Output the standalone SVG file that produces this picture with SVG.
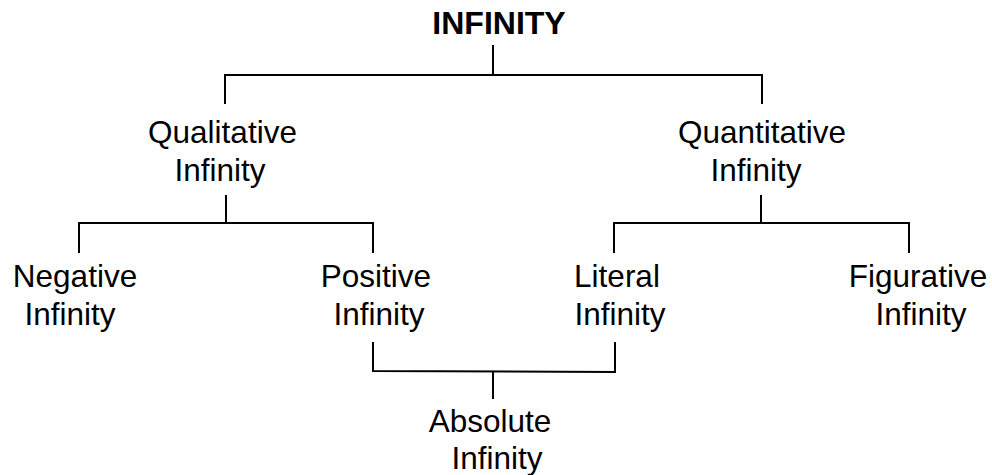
<svg xmlns="http://www.w3.org/2000/svg" width="992" height="475" viewBox="0 0 992 475">
<style>
text{font-family:"Liberation Sans",Arial,sans-serif;font-size:31.5px;fill:#000;text-anchor:middle}
.b{font-weight:bold;font-size:32px}
.c{fill:none;stroke:#000;stroke-width:2}
</style>
<rect width="992" height="475" fill="#fff"/>
<g id="connectors">
<path class="c" d="M493 45V75M225 104V75H762V104"/>
<path class="c" d="M226 195V223M79 253V223H373V253"/>
<path class="c" d="M761 195V223M614 253V223H909V253"/>
<path class="c" d="M373 342V371L615 372V342M493 372V399"/>
</g>
<g id="infinity"><text class="b" x="499" y="34">INFINITY</text></g>
<g id="qualitative"><text x="222.5" y="143">Qualitative</text><text x="220" y="181">Infinity</text></g>
<g id="quantitative"><text x="762" y="143">Quantitative</text><text x="756" y="181">Infinity</text></g>
<g id="negative"><text x="75" y="287">Negative</text><text x="70" y="325">Infinity</text></g>
<g id="positive"><text x="376" y="287">Positive</text><text x="379" y="325">Infinity</text></g>
<g id="literal"><text x="617" y="287">Literal</text><text x="620" y="325">Infinity</text></g>
<g id="figurative"><text x="918" y="287">Figurative</text><text x="921" y="325">Infinity</text></g>
<g id="absolute"><text x="490" y="432">Absolute</text><text x="497" y="469">Infinity</text></g>
</svg>
